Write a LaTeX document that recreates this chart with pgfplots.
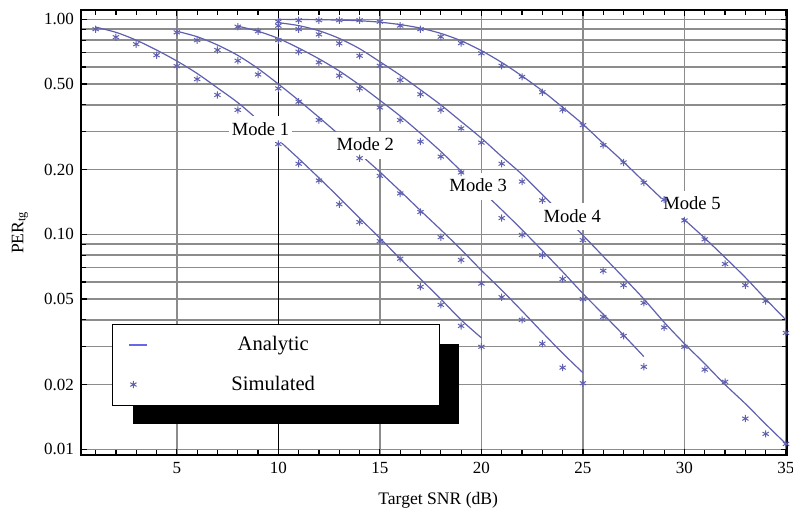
\documentclass[border=0pt]{standalone}
\usepackage{fontspec}
\setmainfont{Liberation Serif}
\usepackage{pgfplots}
\pgfplotsset{compat=1.18}
\usetikzlibrary{calc}

\definecolor{curve}{RGB}{96,96,176}
\definecolor{legline}{RGB}{104,104,230}
\definecolor{gridgray}{RGB}{140,140,140}

\tikzset{modelabel/.style={fill=white, inner xsep=1.2pt, inner ysep=2.5pt,
  text height=7pt, text depth=1.5pt, font=\fontsize{9.3}{11}\selectfont}}

\pgfplotsset{
  shortline legend/.style={legend image code/.code={\draw[##1] (0pt,0pt) -- (9pt,0pt);}},
  star legend/.style={legend image code/.code={\draw[##1] plot coordinates {(2pt,0pt)};}},
}

\begin{document}
\begin{tikzpicture}
\begin{axis}[
  name=ax,
  scale only axis,
  width=353pt, height=222.5pt,
  ymode=log,
  xmin=0.28, xmax=35.05,
  ymin=0.00941, ymax=1.105,
  xtick={5,15,20,25,30,35},
  extra x ticks={10},
  extra x tick style={grid style={black, line width=0.8pt}},
  minor xtick={1,...,35},
  ytick={0.01,0.02,0.05,0.1,0.2,0.5,1},
  yticklabels={0.01,0.02,0.05,0.10,0.20,0.50,1.00},
  minor ytick={0.03,0.04,0.06,0.07,0.08,0.09,0.3,0.4,0.6,0.7,0.8,0.9},
  xmajorgrids, ymajorgrids, yminorgrids,
  grid style={gridgray, line width=0.7pt},
  minor grid style={gridgray, line width=0.7pt},
  axis line style={black, line width=0.7pt},
  major tick length=3pt, minor tick length=2.5pt,
  tick style={black, line width=0.6pt},
  tick align=inside,
  /pgf/number format/assume math mode=true,
  tick label style={font=\fontsize{8.5}{10}\selectfont},
  xlabel={Target SNR (dB)},
  ylabel={PER\textsubscript{tg}},
  x label style={at={(axis description cs:0.506,-0.101)}, anchor=center,
    font=\fontsize{8.8}{10}\selectfont},
  y label style={at={(axis description cs:-0.0864,0.5)}, anchor=center,
    font=\fontsize{8.8}{10}\selectfont},
  legend style={at={(rel axis cs:0.0439,0.2944)}, anchor=north west,
    draw=black, line width=0.6pt, fill=white,
    inner xsep=8pt, inner ysep=4pt, row sep=7pt,
    font=\fontsize{10.3}{12}\selectfont},
  legend cell align=left,
  analytic/.style={curve, line width=0.6pt, smooth, no markers},
  simulated/.style={only marks, mark=asterisk, mark size=1.8pt,
    mark options={curve, line width=0.5pt}},
]

\addlegendimage{legline, line width=0.8pt, shortline legend}
\addlegendentry{\makebox[121pt]{Analytic}\hspace*{12.5pt}}
\addlegendimage{curve, line width=0.5pt, mark=asterisk, mark size=1.8pt, star legend}
\addlegendentry{\makebox[121pt]{Simulated}\hspace*{12.5pt}}

% Mode 1
\addplot[analytic, forget plot] table {
x y
1 0.92
2 0.87
3 0.80
4 0.72
5 0.64
6 0.56
7 0.48
8 0.41
9 0.34
10 0.275
11 0.225
12 0.183
13 0.148
14 0.119
15 0.096
16 0.077
17 0.062
18 0.050
19 0.040
20 0.033
};
\addplot[simulated, forget plot] table {
x y
1 0.90
2 0.826
3 0.766
4 0.681
5 0.606
6 0.527
7 0.445
8 0.379
10 0.263
11 0.213
12 0.178
13 0.138
14 0.114
15 0.093
16 0.077
17 0.057
18 0.047
19 0.0375
20 0.030
};

% Mode 2
\addplot[analytic, forget plot] table {
x y
5 0.88
6 0.83
7 0.76
8 0.68
9 0.59
10 0.50
11 0.42
12 0.35
13 0.29
14 0.237
15 0.195
16 0.159
17 0.129
18 0.105
19 0.085
20 0.068
21 0.055
22 0.044
23 0.035
24 0.028
25 0.0227
};
\addplot[simulated, forget plot] table {
x y
5 0.87
6 0.80
7 0.72
8 0.642
9 0.554
10 0.477
11 0.414
12 0.34
14 0.226
15 0.187
16 0.155
17 0.127
18 0.097
19 0.076
20 0.059
21 0.051
22 0.040
23 0.031
24 0.024
25 0.0203
};

% Mode 3
\addplot[analytic, forget plot] table {
x y
8 0.93
9 0.88
10 0.815
11 0.735
12 0.655
13 0.575
14 0.495
15 0.42
16 0.355
17 0.295
18 0.243
19 0.197
20 0.16
21 0.13
22 0.105
23 0.084
24 0.067
25 0.053
26 0.0425
27 0.034
28 0.027
};
\addplot[simulated, forget plot] table {
x y
8 0.924
9 0.88
10 0.80
11 0.707
12 0.631
13 0.547
14 0.477
15 0.389
16 0.340
17 0.27
18 0.23
19 0.194
21 0.119
22 0.0994
23 0.080
24 0.062
25 0.050
26 0.0413
27 0.0337
28 0.0242
};

% Mode 4
\addplot[analytic, forget plot] table {
x y
10 0.965
11 0.935
12 0.885
13 0.815
14 0.73
15 0.635
16 0.55
17 0.47
18 0.40
19 0.335
20 0.28
21 0.23
22 0.19
23 0.153
24 0.123
25 0.099
26 0.079
27 0.063
28 0.050
29 0.039
30 0.031
31 0.025
32 0.020
33 0.0163
34 0.0131
35 0.0106
};
\addplot[simulated, forget plot] table {
x y
10 0.934
11 0.90
12 0.851
13 0.773
14 0.677
15 0.608
16 0.522
17 0.448
18 0.379
19 0.311
20 0.267
21 0.213
22 0.176
23 0.144
25 0.094
26 0.0677
27 0.058
28 0.048
29 0.0369
30 0.030
31 0.0235
32 0.0206
33 0.0139
34 0.0118
35 0.0106
};

% Mode 5
\addplot[analytic, forget plot] table {
x y
10 1.0
11 0.998
12 0.996
13 0.992
14 0.985
15 0.97
16 0.945
17 0.91
18 0.86
19 0.795
20 0.715
21 0.63
22 0.545
23 0.465
24 0.39
25 0.325
26 0.265
27 0.217
28 0.176
29 0.143
30 0.117
31 0.096
32 0.078
33 0.063
34 0.050
35 0.040
};
\addplot[simulated, forget plot] table {
x y
10 0.975
11 0.99
12 0.99
13 0.99
14 0.99
15 0.975
16 0.935
17 0.90
18 0.83
19 0.775
20 0.695
21 0.608
22 0.54
23 0.458
24 0.38
25 0.322
26 0.26
27 0.216
28 0.174
29 0.145
30 0.116
31 0.0948
32 0.0728
33 0.058
34 0.049
35 0.0348
};

% drop shadow behind the legend box
\fill[black] (rel axis cs:0.0737,0.0697) rectangle (rel axis cs:0.5354,0.2494);

% curve labels
\node[modelabel] at (axis cs:9.12,0.307) {Mode 1};
\node[modelabel] at (axis cs:14.28,0.26) {Mode 2};
\node[modelabel] at (axis cs:19.84,0.167) {Mode 3};
\node[modelabel] at (axis cs:24.47,0.121) {Mode 4};
\node[modelabel] at (axis cs:30.37,0.138) {Mode 5};
\end{axis}
\pgfresetboundingbox
\path[use as bounding box] ($(ax.south west)+(-40.5pt,-30.5pt)$) rectangle ($(ax.north east)+(3pt,5pt)$);
\end{tikzpicture}
\end{document}
